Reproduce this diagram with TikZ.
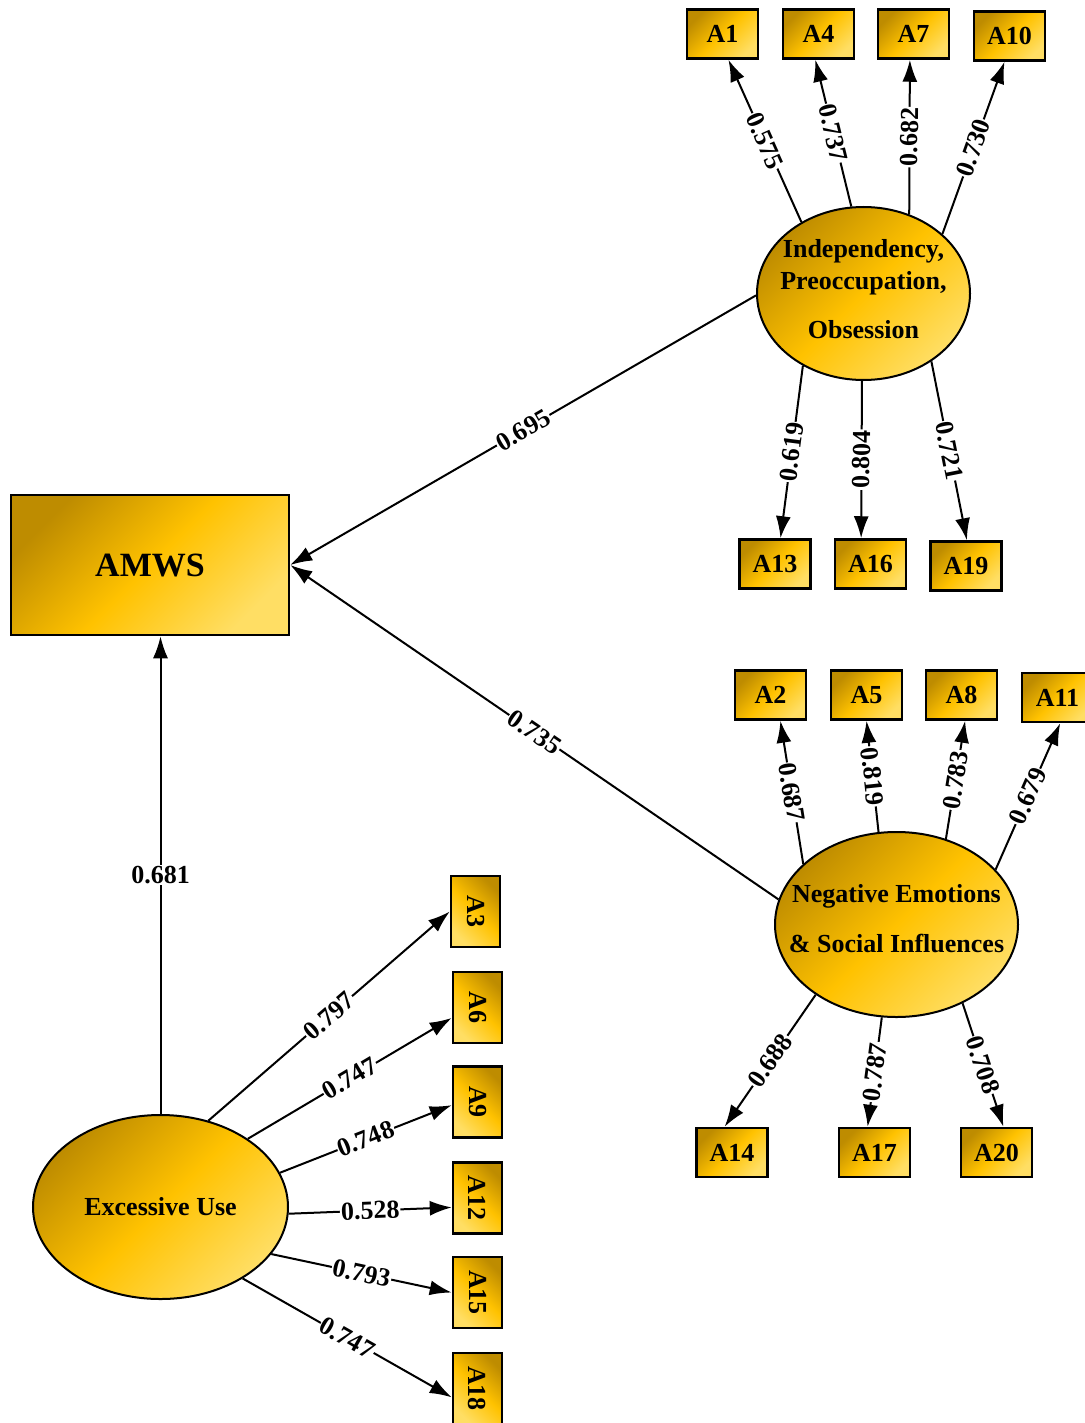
\documentclass[tikz,border=0pt]{standalone}
\usepackage{fontspec}
\setmainfont{Liberation Serif}
\usepackage{graphicx}
\usetikzlibrary{arrows.meta,shapes.geometric}

\definecolor{goldDk}{RGB}{190,140,0}
\definecolor{goldMd}{RGB}{255,194,0}
\definecolor{goldLt}{RGB}{255,222,100}

\tikzset{
  gold/.style={top color=goldDk, bottom color=goldLt, middle color=goldMd, shading angle=45},
  construct/.style={rectangle, draw, line width=2.5pt, gold, minimum width=278pt, minimum height=140pt, inner sep=0pt, font=\fontsize{34}{36}\selectfont\bfseries},
  latent/.style={ellipse, draw, line width=2pt, gold, inner sep=0pt},
  lattxt/.style={align=center, inner sep=0pt, font=\fontsize{26}{32}\selectfont\bfseries},
  indbox/.style={rectangle, draw, line width=2.5pt, gold, minimum width=71pt, minimum height=49pt, inner sep=0pt, font=\fontsize{26}{28}\selectfont\bfseries},
  indboxv/.style={indbox, minimum width=49pt, minimum height=71pt, shading angle=-45},
  loadarr/.style={-{Latex[length=22pt,width=15pt]}, line width=2pt},
  lbl/.style={fill=white, inner sep=1pt, sloped, font=\fontsize{26}{28}\selectfont\bfseries}
}
\newcommand{\vlab}[1]{\rotatebox{-90}{#1}}

\begin{document}
\begin{tikzpicture}[x=1pt, y=-1pt]
			\useasboundingbox (0,0) rectangle (1084,1423);

			% constructs
			\node[construct] (amws) at (150,565) {AMWS};
			\node[latent, minimum width=213pt, minimum height=173pt] (ipo) at (863.5,293.5) {};
			\node[lattxt] (ipo-t) at (863.5,288.7) {Independency,\\Preoccupation,\\[17pt]Obsession};
			\node[latent, minimum width=243pt, minimum height=185pt] (nesi) at (896.5,924.5) {};
			\node[lattxt] (nesi-t) at (896.5,918.2) {Negative Emotions\\[18pt]\& Social Influences};
			\node[latent, minimum width=255pt, minimum height=184pt, font=\fontsize{26}{28}\selectfont\bfseries] (eu) at (160.5,1207) {Excessive Use};

			% indicators of ipo
			\node[indbox] (a1) at (722.5,34) {A1};
			\node[indbox] (a4) at (818.5,34) {A4};
			\node[indbox] (a7) at (913.5,34) {A7};
			\node[indbox] (a10) at (1009.5,36) {A10};
			\node[indbox] (a13) at (775,564) {A13};
			\node[indbox] (a16) at (870.5,564) {A16};
			\node[indbox] (a19) at (966,566) {A19};

			% indicators of nesi
			\node[indbox] (a2) at (770.5,695) {A2};
			\node[indbox] (a5) at (866.5,695) {A5};
			\node[indbox] (a8) at (961.5,695) {A8};
			\node[indbox] (a11) at (1057.5,697.5) {A11};
			\node[indbox] (a14) at (732,1152.5) {A14};
			\node[indbox] (a17) at (874.5,1152.5) {A17};
			\node[indbox] (a20) at (996.5,1152.5) {A20};

			% indicators of eu
			\node[indboxv] (a3) at (475.5,911.5) {\vlab{A3}};
			\node[indboxv] (a6) at (477.5,1007.5) {\vlab{A6}};
			\node[indboxv] (a9) at (477.5,1102) {\vlab{A9}};
			\node[indboxv] (a12) at (477.5,1198) {\vlab{A12}};
			\node[indboxv] (a15) at (477.5,1292.5) {\vlab{A15}};
			\node[indboxv] (a18) at (477.5,1388.5) {\vlab{A18}};

			% loadings ipo
			\draw[loadarr] (ipo.131) -- node[lbl] {0.575} (a1.-77);
			\draw[loadarr] (ipo.98) -- node[lbl] {0.737} (a4.-97);
			\draw[loadarr] (ipo.60) -- node[lbl] {0.682} (a7.-98);
			\draw[loadarr] (ipo.37) -- node[lbl] {0.730} (a10.-101);
			\draw[loadarr] (ipo.-130) -- node[lbl] {0.619} (a13.78);
			\draw[loadarr] (ipo.-91) -- node[lbl] {0.804} (a16.110);
			\draw[loadarr] (ipo.-45) -- node[lbl] {0.721} (a19.88);

			% loadings nesi
			\draw[loadarr] (nesi.147) -- node[lbl] {0.687} (a2.-69);
			\draw[loadarr] (nesi.101) -- node[lbl] {0.819} (a5.south);
			\draw[loadarr] (nesi.60) -- node[lbl] {0.783} (a8.-82);
			\draw[loadarr] (nesi.29) -- node[lbl] {0.679} (a11.-84);
			\draw[loadarr] (nesi.-139) -- node[lbl] {0.688} (a14.106);
			\draw[loadarr] (nesi.-99) -- node[lbl] {0.787} (a17.105);
			\draw[loadarr] (nesi.-50) -- node[lbl] {0.708} (a20.75);

			% loadings eu
			\draw[loadarr] (eu.61) -- node[lbl] {0.797} (a3.west);
			\draw[loadarr] (eu.38) -- node[lbl] {0.747} (a6.-158);
			\draw[loadarr] (eu.16) -- node[lbl] {0.748} (a9.-173);
			\draw[loadarr] (eu.-3) -- node[lbl] {0.528} (a12.-160);
			\draw[loadarr] (eu.-23) -- node[lbl] {0.793} (a15.west);
			\draw[loadarr] (eu.-41) -- node[lbl] {0.747} (a18.-161);

			% paths to amws
			\draw[loadarr] (ipo.181) -- node[lbl] {0.695} (amws.east);
			\draw[loadarr] (nesi.168) -- node[lbl] {0.735} (amws.east);
			\draw[loadarr] (eu.north) -- node[lbl, sloped=false] {0.681} (eu.north |- amws.south);

		\end{tikzpicture}
\end{document}
